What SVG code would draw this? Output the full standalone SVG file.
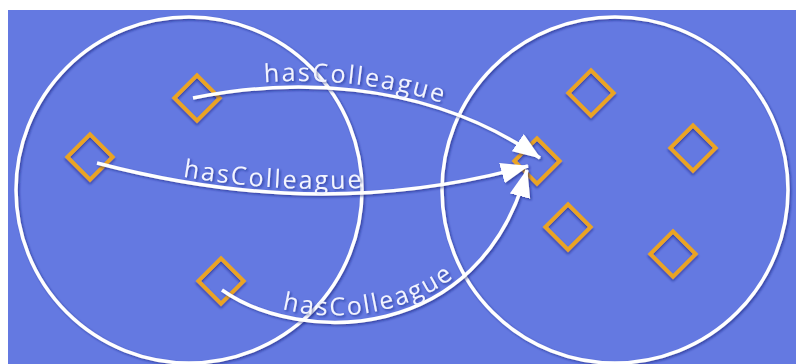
<svg xmlns="http://www.w3.org/2000/svg" xmlns:xlink="http://www.w3.org/1999/xlink" width="796" height="364" viewBox="0 0 796 364">
<style>
.set{fill:none;stroke:#ffffff;stroke-width:3.5;filter:url(#sh)}
.ind{fill:none;stroke:#EBA424;stroke-width:4;filter:url(#sh)}
.edge{fill:none;stroke:#ffffff;stroke-width:3.5}
.lbl{font-family:"Open Sans","Noto Sans",sans-serif;font-size:25px;fill:#F2F4FF;letter-spacing:2.2px}
</style>
<defs>
<filter id="sh" x="-20%" y="-20%" width="140%" height="140%">
<feDropShadow dx="1.5" dy="1.5" stdDeviation="1.2" flood-color="#17207a" flood-opacity="0.6"/>
</filter>
<marker id="ah" markerUnits="userSpaceOnUse" markerWidth="30" markerHeight="22" refX="27" refY="10.5" orient="auto">
<path d="M0,0 L28,10.5 L0,21 Z" fill="#ffffff"/>
</marker>
<path id="p1" d="M193,98 C 280,80 420,75 540,158"/>
<path id="p2" d="M97,163 C 200,190 350,215 528,166"/>
<path id="p3" d="M222,290 C 300,345 480,345 527,170"/>
</defs>
<rect x="0" y="0" width="796" height="364" fill="#ffffff"/>
<rect x="8" y="10" width="788" height="354" fill="#6479E1"/>
<g id="setA"><circle class="set" cx="189" cy="190" r="173"/></g>
<g id="setB"><circle class="set" cx="615" cy="190" r="173"/></g>
<g id="a1"><rect class="ind" x="181" y="82" width="32" height="32" transform="rotate(45 197 98)"/></g>
<g id="a2"><rect class="ind" x="74" y="141" width="32" height="32" transform="rotate(45 90 157)"/></g>
<g id="a3"><rect class="ind" x="205" y="265" width="32" height="32" transform="rotate(45 221 281)"/></g>
<g id="b0"><rect class="ind" x="521" y="145" width="32" height="32" transform="rotate(45 537 161)"/></g>
<g id="b1"><rect class="ind" x="575" y="77" width="32" height="32" transform="rotate(45 591 93)"/></g>
<g id="b2"><rect class="ind" x="677" y="132" width="32" height="32" transform="rotate(45 693 148)"/></g>
<g id="b3"><rect class="ind" x="552" y="211" width="32" height="32" transform="rotate(45 568 227)"/></g>
<g id="b4"><rect class="ind" x="657" y="238" width="32" height="32" transform="rotate(45 673 254)"/></g>
<g id="connectors" filter="url(#sh)">
<use xlink:href="#p1" class="edge" marker-end="url(#ah)"/>
<use xlink:href="#p2" class="edge" marker-end="url(#ah)"/>
<use xlink:href="#p3" class="edge" marker-end="url(#ah)"/>
<text class="lbl" transform="translate(0,-6)"><textPath xlink:href="#p1" startOffset="72">hasColleague</textPath></text>
<text class="lbl" transform="translate(0,-5)"><textPath xlink:href="#p2" startOffset="88">hasColleague</textPath></text>
<text class="lbl" transform="translate(0,-7)"><textPath xlink:href="#p3" startOffset="66">hasColleague</textPath></text>
</g>
</svg>
